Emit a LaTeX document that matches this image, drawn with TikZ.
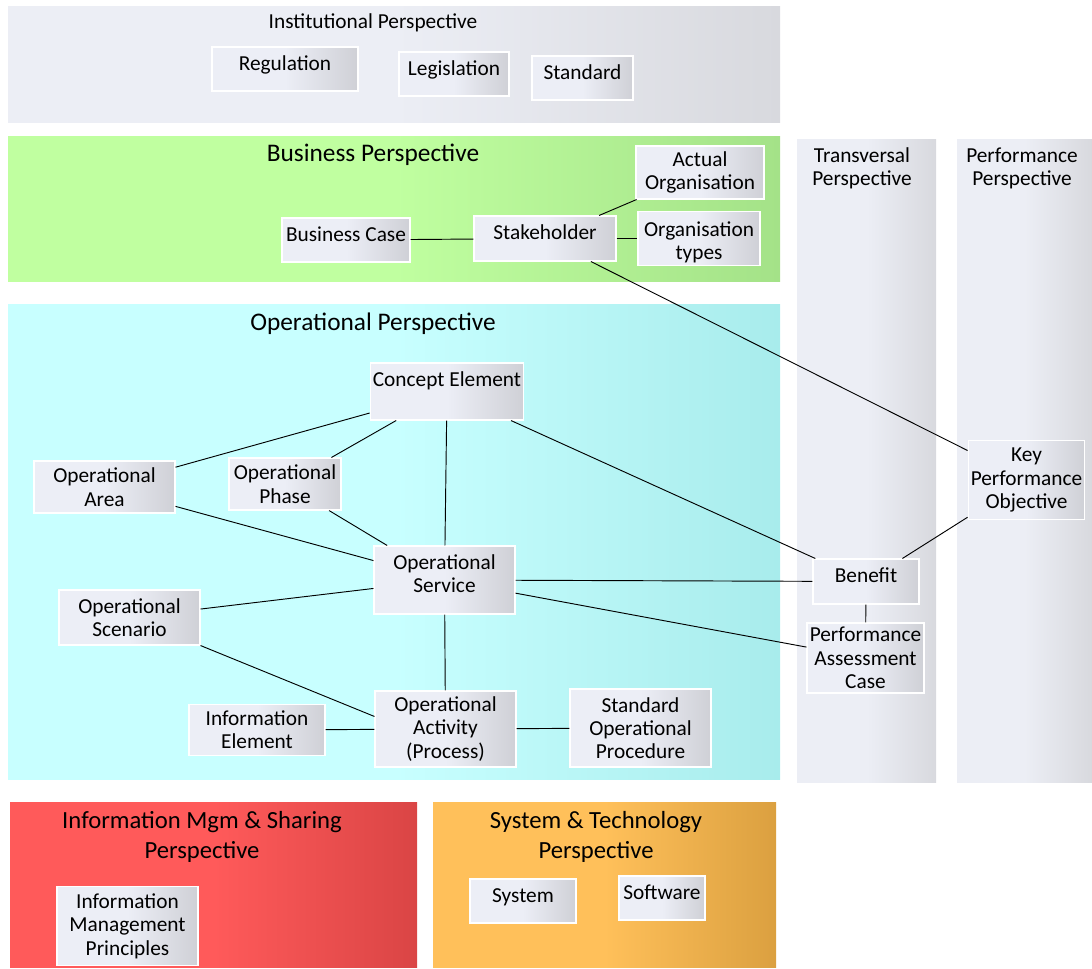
\documentclass[tikz,border=0pt]{standalone}
\usepackage{fontspec}
\setmainfont{Carlito}
\usepackage{xcolor}
\usetikzlibrary{positioning}

\definecolor{boxl}{HTML}{ECEEF6}
\definecolor{boxr}{HTML}{CFD0D6}
\definecolor{greyl}{HTML}{ECEEF5}
\definecolor{greyr}{HTML}{D8D9DE}
\definecolor{greenl}{HTML}{C0FFA0}
\definecolor{greenr}{HTML}{A4E288}
\definecolor{cyanl}{HTML}{C8FFFF}
\definecolor{cyanr}{HTML}{A8ECEC}
\definecolor{redl}{HTML}{FF5A5A}
\definecolor{redr}{HTML}{DA4545}
\definecolor{orangel}{HTML}{FFC05A}
\definecolor{oranger}{HTML}{DBA040}

\tikzset{
  panel/.style 2 args={left color=#1, right color=#2, middle color=#1},
  elem/.style={draw=white, line width=0.8pt, left color=boxl, right color=boxr,
    middle color=boxl, align=center, inner sep=2pt,
    font=\fontsize{16}{17.5}\selectfont},
  oneline/.style={text height=11pt, text depth=9pt},
  link/.style={draw=black, line width=0.7pt},
  ptitle/.style={align=center, font=\fontsize{18.5}{22.5}\selectfont},
  stitle/.style={align=center, font=\fontsize{16}{17.5}\selectfont},
}

\begin{document}
\begin{tikzpicture}[x=0.75pt, y=-0.75pt]
  \useasboundingbox (0,0) rectangle (1092,968);

  % Perspective panels
  \path[panel={greyl}{greyr}] (8,6) rectangle (780,122);
  \path[panel={greenl}{greenr}] (8,136) rectangle (780,281);
  \path[panel={cyanl}{cyanr}] (8,304) rectangle (780,779);
  \path[panel={greyl}{greyr}] (797,139) rectangle (936,782);
  \path[panel={greyl}{greyr}] (957,139) rectangle (1092,782);
  \path[panel={redl}{redr}] (10,802) rectangle (417,967);
  \path[panel={orangel}{oranger}] (433,802) rectangle (776,967);

  \node[stitle] (tinst) at (373,23) {Institutional Perspective};
  \node[ptitle, font=\fontsize{19}{22.5}\selectfont] (tbusi) at (373,155) {Business Perspective};
  \node[ptitle, font=\fontsize{19}{22.5}\selectfont] (toper) at (373,324) {Operational Perspective};
  \node[stitle] (ttrans) at (862,168.5) {Transversal\\Perspective};
  \node[stitle] (tperf) at (1022,168.5) {Performance\\Perspective};
  \node[ptitle] (tinfo) at (202,837) {Information Mgm \& Sharing\\Perspective};
  \node[ptitle] (tsys) at (596,837) {System \& Technology\\Perspective};

  % Institutional elements
  \node[elem, oneline, minimum width=109.5pt, minimum height=33pt] (reg) at (285,69) {Regulation};
  \node[elem, oneline, minimum width=82.5pt, minimum height=33pt] (leg) at (454,74) {Legislation};
  \node[elem, oneline, minimum width=75.75pt, minimum height=33pt] (std) at (582.5,78) {Standard};

  % Business elements
  \node[elem, oneline, minimum width=96pt, minimum height=33pt] (bcase) at (346,240) {Business Case};
  \node[elem, oneline, minimum width=106.5pt, minimum height=33.75pt] (stake) at (545,238.5) {Stakeholder};
  \node[elem, minimum width=96pt, minimum height=39.75pt] (actorg) at (700,172.5) {Actual\\Organisation};
  \node[elem, text height=34pt, minimum width=91.5pt, minimum height=35.25pt] (orgtyp) at (699,238.5) {Organisation\\types};

  % Operational elements
  \node[elem, text height=11pt, text depth=19pt, minimum width=106.5pt, minimum height=42.75pt] (concept) at (447,391.5) {Concept Element};
  \node[elem, minimum width=105.75pt, minimum height=39pt] (oparea) at (104.5,487) {Operational\\Area};
  \node[elem, minimum width=84pt, minimum height=39pt] (opphase) at (285,484) {Operational\\Phase};
  \node[elem, text depth=10pt, minimum width=105.75pt, minimum height=51pt] (opserv) at (444.5,580) {Operational\\Service};
  \node[elem, minimum width=105.75pt, minimum height=41.25pt] (opscen) at (129.5,617.5) {Operational\\Scenario};
  \node[elem, minimum width=102pt, minimum height=38.25pt] (infel) at (257,730) {Information\\Element};
  \node[elem, minimum width=105.75pt, minimum height=57pt] (opact) at (445.5,729) {Operational\\Activity\\(Process)};
  \node[elem, minimum width=105.75pt, minimum height=58.5pt] (sop) at (640.5,728) {Standard\\Operational\\Procedure};

  % Transversal and performance elements
  \node[elem, oneline, minimum width=79.5pt, minimum height=33.75pt] (benefit) at (866,581.5) {Benefit};
  \node[elem, minimum width=87.75pt, minimum height=52.5pt] (pac) at (865.5,658) {Performance\\Assessment\\Case};
  \node[elem, minimum width=86.25pt, minimum height=59.25pt] (kpo) at (1026.5,480) {Key\\Performance\\Objective};

  % Information and system elements
  \node[elem, minimum width=105.75pt, minimum height=59.25pt] (imp) at (127.5,926) {Information\\Management\\Principles};
  \node[elem, oneline, minimum width=79.5pt, minimum height=33pt] (sys) at (523,901) {System};
  \node[elem, oneline, minimum width=64.5pt, minimum height=33pt] (soft) at (662,898) {Software};

  % Relations
  \draw[link] (bcase) -- (stake);
  \draw[link] (stake) -- (actorg);
  \draw[link] (stake) -- (orgtyp);
  \draw[link] (stake) -- (kpo);
  \draw[link] (concept) -- (oparea);
  \draw[link] (concept) -- (opphase);
  \draw[link] (concept) -- (opserv);
  \draw[link] (concept) -- (benefit);
  \draw[link] (oparea) -- (opserv);
  \draw[link] (opphase) -- (opserv);
  \draw[link] (opscen) -- (opserv);
  \draw[link] (opscen.south east) -- (opact.170);
  \draw[link] (opserv) -- (opact);
  \draw[link] (opserv) -- (benefit);
  \draw[link] (opserv) -- (pac);
  \draw[link] (benefit) -- (pac);
  \draw[link] (benefit) -- (kpo);
  \draw[link] (infel) -- (opact);
  \draw[link] (opact) -- (sop);
\end{tikzpicture}
\end{document}
